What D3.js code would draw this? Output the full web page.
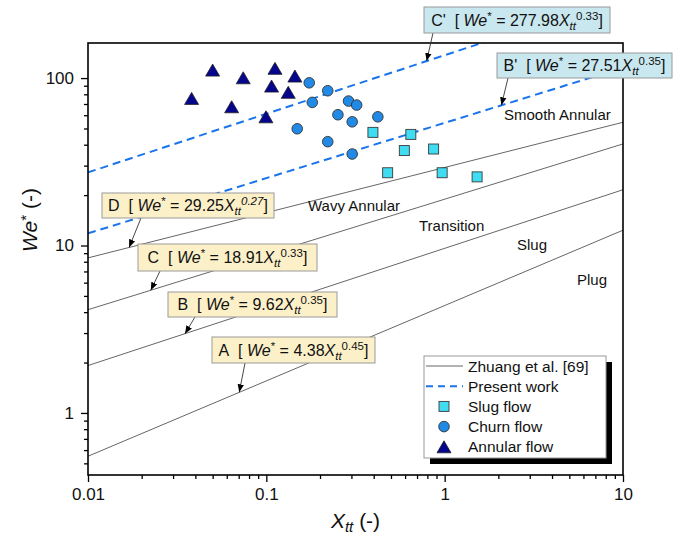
<!DOCTYPE html>
<html>
<head>
<meta charset="utf-8">
<script src="https://cdn.jsdelivr.net/npm/d3@7"></script>
<style>
body { margin: 0; background: #fff; }
svg { font-family: Arial, "Liberation Sans", sans-serif; }
</style>
</head>
<body>
<svg id="chart" width="684" height="536"></svg>
<script>
// measured points (Xtt, We*)
const slugX = [0.396, 0.646, 0.594, 0.867, 0.479, 0.968, 1.52]
const slugWe = [47.4, 46.1, 36.9, 37.7, 27.2, 27.2, 25.7]
const churnX = [0.174, 0.221, 0.181, 0.289, 0.321, 0.252, 0.303, 0.422, 0.149, 0.221, 0.303]
const churnWe = [93.7, 84.0, 71.6, 72.9, 69.0, 60.4, 54.8, 58.7, 49.8, 41.7, 35.2]
const annularX = [0.0381, 0.050, 0.0639, 0.0742, 0.0995, 0.107, 0.1118, 0.1327, 0.1446]
const annularWe = [75.6, 111.6, 67.4, 100.4, 58.7, 89.6, 114.3, 82.2, 102.8]

// transition lines We* = a * Xtt^b
const zhuangNames = ['A', 'B', 'C', 'D']
const zhuangCoef = [4.38, 9.62, 18.91, 29.25]
const zhuangExp = [0.45, 0.35, 0.33, 0.27]
const presentNames = ["C'", "B'"]
const presentLabelCoef = [277.98, 27.51]
const presentLabelExp = [0.33, 0.35]
// drawn dashed lines
const presentCoef = [137, 54]
const presentExp = [0.35, 0.33]

const regionNames = ['Smooth Annular', 'Wavy Annular', 'Transition', 'Slug', 'Plug']
const xTicks = [0.01, 0.1, 1, 10]
const yTicks = [1, 10, 100]
const legendNames = ['Zhuang et al. [69]', 'Present work', 'Slug flow', 'Churn flow', 'Annular flow']

const padL = 88, padR = 623, padT = 43, padB = 475

let svg = d3.select('#chart')

let xScale = d3.scaleLog().domain([0.01, 10]).range([padL, padR])
let yScale = d3.scaleLog().domain([0.426, 162]).range([padB, padT])

const colSlug = '#3fdcf2'
const colChurn = '#2189e6'
const colAnnular = '#05058e'
const colDash = '#1a74ec'

svg.append('clipPath').attr('id', 'plotclip')
    .append('rect').attr('x', padL).attr('y', padT)
    .attr('width', padR - padL).attr('height', padB - padT)

// ---- axes ----
const minorTicks = (lo, hi) => {
    let out = []
    for (let d = lo; d < hi; d *= 10) {
        for (let k = 2; k <= 9; k++) out.push(d * k)
    }
    return out
}
const fmt = d => d < 1 ? String(d) : d3.format('d')(d)

svg.append('g')
    .attr('transform', `translate(0, ${padB})`)
    .call(d3.axisBottom(xScale).tickValues(minorTicks(0.01, 10)).tickSize(4).tickFormat(''))
svg.append('g')
    .attr('id', 'x-axis')
    .attr('transform', `translate(0, ${padB})`)
    .call(d3.axisBottom(xScale).tickValues(xTicks).tickSize(7).tickPadding(6).tickFormat(fmt))

svg.append('g')
    .attr('transform', `translate(${padL}, 0)`)
    .call(d3.axisLeft(yScale).tickValues(minorTicks(0.1, 100).filter(v => v > 0.426)).tickSize(4).tickFormat(''))
svg.append('g')
    .attr('id', 'y-axis')
    .attr('transform', `translate(${padL}, 0)`)
    .call(d3.axisLeft(yScale).tickValues(yTicks).tickSize(7).tickPadding(7).tickFormat(fmt))

svg.selectAll('.domain').remove()
svg.selectAll('.tick line').attr('stroke', '#000').attr('stroke-width', 1.3)
svg.selectAll('.tick text').attr('font-size', 17).attr('fill', '#111')
    .attr('font-family', 'Arial, "Liberation Sans", sans-serif')

// ---- lines ----
const plot = svg.append('g').attr('clip-path', 'url(#plotclip)')
const lineGen = (a, b) => d3.line()
    .x(d => xScale(d))
    .y(d => yScale(a * Math.pow(d, b)))([0.01, 10])

zhuangCoef.forEach((a, i) => {
    plot.append('path').attr('d', lineGen(a, zhuangExp[i]))
        .attr('fill', 'none').attr('stroke', '#555').attr('stroke-width', 0.9)
})
presentCoef.forEach((a, i) => {
    plot.append('path').attr('d', lineGen(a, presentExp[i]))
        .attr('fill', 'none').attr('stroke', colDash).attr('stroke-width', 2)
        .attr('stroke-dasharray', '8,5')
})

// ---- markers ----
const triPath = (w, h) => `M0,${-h / 2}L${w / 2},${h / 2}L${-w / 2},${h / 2}Z`

plot.selectAll('.slug')
    .data(slugX.map((x, i) => [x, slugWe[i]]))
    .enter().append('rect')
    .attr('x', d => xScale(d[0]) - 5).attr('y', d => yScale(d[1]) - 5)
    .attr('width', 10).attr('height', 10)
    .attr('fill', colSlug).attr('stroke', '#3a3a3a').attr('stroke-width', 0.9)

plot.selectAll('.churn')
    .data(churnX.map((x, i) => [x, churnWe[i]]))
    .enter().append('circle')
    .attr('cx', d => xScale(d[0])).attr('cy', d => yScale(d[1]))
    .attr('r', 5.3)
    .attr('fill', colChurn).attr('stroke', '#333').attr('stroke-width', 0.9)

plot.selectAll('.annular')
    .data(annularX.map((x, i) => [x, annularWe[i]]))
    .enter().append('path')
    .attr('d', triPath(14, 12))
    .attr('transform', d => `translate(${xScale(d[0])}, ${yScale(d[1])})`)
    .attr('fill', colAnnular).attr('stroke', '#222').attr('stroke-width', 0.8)

// ---- frame ----
svg.append('rect').attr('x', padL).attr('y', padT)
    .attr('width', padR - padL).attr('height', padB - padT)
    .attr('fill', 'none').attr('stroke', '#000').attr('stroke-width', 1.6)

// ---- region labels ----
const regionPos = [[504, 120], [308, 211], [419, 231], [517, 250], [577, 285]]
regionNames.forEach((t, i) => {
    svg.append('text').attr('x', regionPos[i][0]).attr('y', regionPos[i][1])
        .attr('font-size', 15).attr('fill', '#111').text(t)
})

// ---- rich text helper ----
const rich = (sel, parts, size) => {
    let off = 0
    parts.forEach(p => {
        let target = p.k === 'sup' ? -6 : p.k === 'sub' ? 4 : 0
        let ts = sel.append('tspan').text(p.t)
            .attr('dy', target - off)
            .attr('font-size', p.k ? size * 0.72 : size)
        if (p.i) ts.attr('font-style', 'italic')
        off = target
    })
    if (off !== 0) sel.append('tspan').attr('dy', -off).text('')
}
const eqParts = (name, coef, exp, expItalic) => [
    { t: name + '\u00a0\u00a0[\u00a0' },
    { t: 'We', i: true },
    { t: '*', k: 'sup' },
    { t: '\u00a0=\u00a0' + coef },
    { t: 'X', i: true },
    { t: 'tt', k: 'sub', i: true },
    { t: exp, k: 'sup', i: expItalic },
    { t: ']' }
]

// ---- annotation boxes ----
const annotations = [
    { parts: eqParts(presentNames[0], presentLabelCoef[0].toFixed(2), presentLabelExp[0].toFixed(2)),
      a: presentCoef[0], b: presentExp[0], tipX: 0.792, box: [424, 7, 186, 26], fromX: 433, fill: '#c9e7ef' },
    { parts: eqParts(presentNames[1], presentLabelCoef[1].toFixed(2), presentLabelExp[1].toFixed(2)),
      a: presentCoef[1], b: presentExp[1], tipX: 2.08, box: [497, 53, 175, 25], fromX: 508, fill: '#c9e7ef' },
    { parts: eqParts(zhuangNames[3], zhuangCoef[3].toFixed(2), zhuangExp[3].toFixed(2), true),
      a: zhuangCoef[3], b: zhuangExp[3], tipX: 0.017, box: [102, 193, 172, 25], fromX: 141, fill: '#fcf0c9' },
    { parts: eqParts(zhuangNames[2], zhuangCoef[2].toFixed(2), zhuangExp[2].toFixed(2)),
      a: zhuangCoef[2], b: zhuangExp[2], tipX: 0.0225, box: [138, 244, 179, 27], fromX: 160, fill: '#fcf0c9' },
    { parts: eqParts(zhuangNames[1], zhuangCoef[1].toFixed(2), zhuangExp[1].toFixed(2)),
      a: zhuangCoef[1], b: zhuangExp[1], tipX: 0.035, box: [168, 292, 169, 25], fromX: 195, fill: '#fcf0c9' },
    { parts: eqParts(zhuangNames[0], zhuangCoef[0].toFixed(2), zhuangExp[0].toFixed(2)),
      a: zhuangCoef[0], b: zhuangExp[0], tipX: 0.0705, box: [212, 337, 163, 26], fromX: 245, fill: '#fcf0c9' }
]

svg.append('defs').append('marker')
    .attr('id', 'arr').attr('viewBox', '0 0 10 10')
    .attr('refX', 10).attr('refY', 5)
    .attr('markerWidth', 8).attr('markerHeight', 8).attr('markerUnits', 'userSpaceOnUse')
    .attr('orient', 'auto')
    .append('path').attr('d', 'M0,1L10,5L0,9Z').attr('fill', '#000')

annotations.forEach(an => {
    let [bx, by, bw, bh] = an.box
    svg.append('line')
        .attr('x1', an.fromX).attr('y1', by + bh)
        .attr('x2', xScale(an.tipX)).attr('y2', yScale(an.a * Math.pow(an.tipX, an.b)))
        .attr('stroke', '#333').attr('stroke-width', 0.9)
        .attr('marker-end', 'url(#arr)')
    svg.append('rect').attr('x', bx).attr('y', by).attr('width', bw).attr('height', bh)
        .attr('fill', an.fill).attr('stroke', '#9a9a9a').attr('stroke-width', 1)
    let t = svg.append('text').attr('x', bx + bw / 2).attr('y', by + bh / 2 + 5.5)
        .attr('text-anchor', 'middle').attr('fill', '#111')
    rich(t, an.parts, 16)
})

// ---- legend ----
const lg = svg.append('g')
lg.append('rect').attr('x', 430).attr('y', 362).attr('width', 182).attr('height', 102).attr('fill', '#000')
lg.append('rect').attr('x', 424).attr('y', 356).attr('width', 182).attr('height', 102)
    .attr('fill', '#fff').attr('stroke', '#999').attr('stroke-width', 1)

legendNames.forEach((name, i) => {
    let cy = 366 + i * 20.2
    let mx = 444
    if (i === 0) {
        lg.append('line').attr('x1', 426).attr('x2', 463).attr('y1', cy).attr('y2', cy)
            .attr('stroke', '#555').attr('stroke-width', 0.9)
    } else if (i === 1) {
        lg.append('line').attr('x1', 426).attr('x2', 463).attr('y1', cy).attr('y2', cy)
            .attr('stroke', colDash).attr('stroke-width', 2).attr('stroke-dasharray', '7,5')
    } else if (i === 2) {
        lg.append('rect').attr('x', mx - 5).attr('y', cy - 5).attr('width', 10).attr('height', 10)
            .attr('fill', colSlug).attr('stroke', '#3a3a3a').attr('stroke-width', 0.9)
    } else if (i === 3) {
        lg.append('circle').attr('cx', mx).attr('cy', cy).attr('r', 5.3)
            .attr('fill', colChurn).attr('stroke', '#333').attr('stroke-width', 0.9)
    } else {
        lg.append('path').attr('d', triPath(14, 12)).attr('transform', `translate(${mx}, ${cy})`)
            .attr('fill', colAnnular).attr('stroke', '#222').attr('stroke-width', 0.8)
    }
    lg.append('text').attr('x', 468).attr('y', cy + 5.5).attr('font-size', 15.5).attr('fill', '#111').text(name)
})

// ---- axis titles ----
let xt = svg.append('text').attr('x', (padL + padR) / 2).attr('y', 528)
    .attr('text-anchor', 'middle').attr('fill', '#111')
rich(xt, [{ t: 'X', i: true }, { t: 'tt', k: 'sub', i: true }, { t: '\u00a0(-)' }], 21)

let yt = svg.append('text')
    .attr('transform', `translate(37, 220) rotate(-90)`)
    .attr('text-anchor', 'middle').attr('fill', '#111')
rich(yt, [{ t: 'We', i: true }, { t: '*', k: 'sup' }, { t: '\u00a0(-)' }], 21)
</script>
</body>
</html>
